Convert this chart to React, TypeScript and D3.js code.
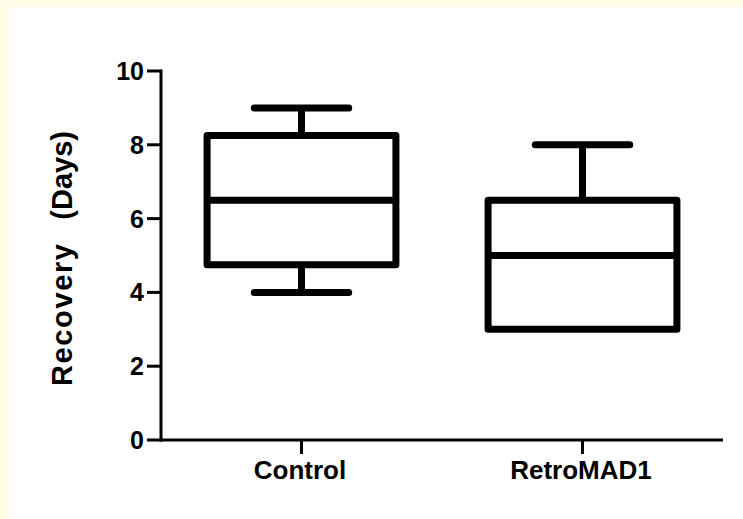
import React from "react";
import * as d3 from "d3";

const categories = ["Control", "RetroMAD1"];
const whiskerLow = [4, 3];
const q1 = [4.75, 3];
const median = [6.5, 5];
const q3 = [8.25, 6.5];
const whiskerHigh = [9, 8];
const yTicks = [0, 2, 4, 6, 8, 10];
const titleWords = ["Recovery", "(Days)"];

const W = 743;
const H = 519;
const FONT = "Arial, 'Liberation Sans', Helvetica, sans-serif";

export default function App() {
  const x = d3.scalePoint<string>().domain(categories).range([161, 723]).padding(0.5);
  const y = d3.scaleLinear().domain([0, 10]).range([440, 71]);
  const step = x.step();
  const boxHalf = step * 0.336;
  const capHalf = step * 0.168;
  const sw = 7;

  return (
    <svg
      width={W}
      height={H}
      style={{ position: "absolute", left: 0, top: 0, display: "block" }}
      fontFamily={FONT}
    >
      <rect x={0} y={0} width={W} height={H} fill="#fefbe6" />
      <rect x={9} y={7} width={W - 9} height={H - 7} fill="#ffffff" />

      {/* y axis */}
      <line x1={161} x2={161} y1={y(10) - 1.5} y2={y(0) + 1.5} stroke="#000" strokeWidth={3} />
      {yTicks.map((t) => (
        <g key={t}>
          <line x1={147} x2={161} y1={y(t)} y2={y(t)} stroke="#000" strokeWidth={3} />
          <text
            x={144}
            y={y(t)}
            dy="0.36em"
            textAnchor="end"
            fontSize={25}
            fontWeight="bold"
            fill="#000"
          >
            {t}
          </text>
        </g>
      ))}
      {/* x axis */}
      <line x1={159.5} x2={723} y1={y(0)} y2={y(0)} stroke="#000" strokeWidth={3} />
      {categories.map((c) => (
        <g key={c}>
          <line x1={x(c)!} x2={x(c)!} y1={y(0)} y2={y(0) + 14} stroke="#000" strokeWidth={3} />
          <text
            x={x(c)! - 1.5}
            y={479}
            textAnchor="middle"
            fontSize={26}
            fontWeight="bold"
            fill="#000"
          >
            {c}
          </text>
        </g>
      ))}
      {/* y title: two words with a wide gap */}
      <text
        transform={`translate(72, 386) rotate(-90)`}
        textAnchor="start"
        fontSize={29}
        fontWeight="bold"
        fill="#000"
        textLength={142}
        lengthAdjust="spacing"
      >
        {titleWords[0]}
      </text>
      <text
        transform={`translate(72, 131) rotate(-90)`}
        textAnchor="end"
        fontSize={29}
        fontWeight="bold"
        fill="#000"
      >
        {titleWords[1]}
      </text>

      {/* boxes */}
      {categories.map((c, i) => {
        const cx = x(c)!;
        return (
          <g key={c} stroke="#000" strokeWidth={sw} fill="none">
            {whiskerHigh[i] > q3[i] && (
              <>
                <line x1={cx} x2={cx} y1={y(q3[i])} y2={y(whiskerHigh[i])} strokeLinecap="butt" />
                <line
                  x1={cx - capHalf}
                  x2={cx + capHalf}
                  y1={y(whiskerHigh[i])}
                  y2={y(whiskerHigh[i])}
                  strokeLinecap="round"
                />
              </>
            )}
            {whiskerLow[i] < q1[i] && (
              <>
                <line x1={cx} x2={cx} y1={y(q1[i])} y2={y(whiskerLow[i])} strokeLinecap="butt" />
                <line
                  x1={cx - capHalf}
                  x2={cx + capHalf}
                  y1={y(whiskerLow[i])}
                  y2={y(whiskerLow[i])}
                  strokeLinecap="round"
                />
              </>
            )}
            <rect
              x={cx - boxHalf}
              y={y(q3[i])}
              width={boxHalf * 2}
              height={y(q1[i]) - y(q3[i])}
              fill="#fff"
              strokeLinejoin="round"
            />
            <line x1={cx - boxHalf} x2={cx + boxHalf} y1={y(median[i])} y2={y(median[i])} />
          </g>
        );
      })}
    </svg>
  );
}
